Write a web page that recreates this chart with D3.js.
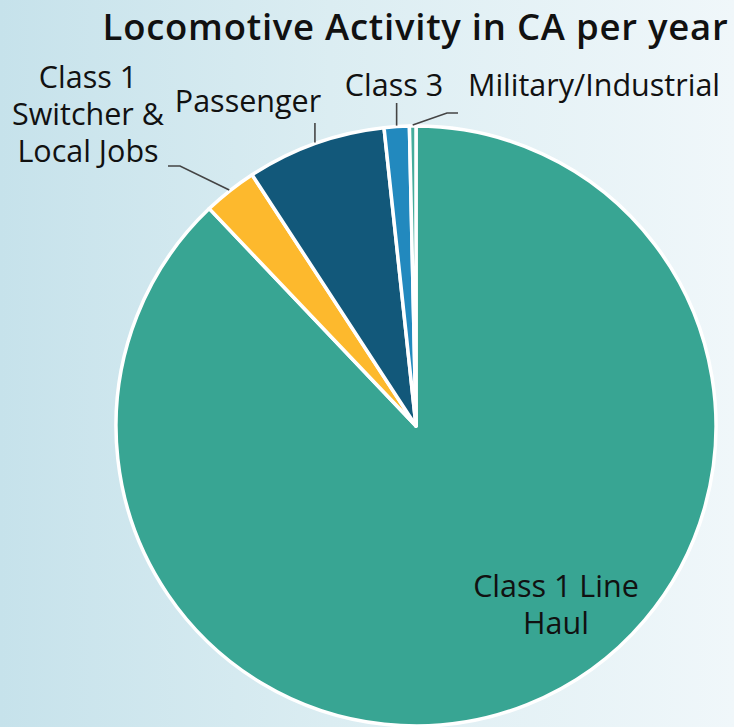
<!DOCTYPE html>
<html>
<head>
<meta charset="utf-8">
<script src="https://cdn.jsdelivr.net/npm/d3@7"></script>
<style>
  html, body { margin: 0; padding: 0; }
  body { width: 734px; height: 727px; overflow: hidden; }
  svg { display: block; }
</style>
</head>
<body>
<svg id="chart" width="734" height="727"></svg>
<script>
// Share of locomotive activity by category (percent)
const categories = ["Class 1 Line Haul", "Class 1 Switcher & Local Jobs", "Passenger", "Class 3", "Military/Industrial"];
const shares = [87.9, 2.9, 7.5, 1.35, 0.35];
const colors = ["#38a593", "#fdb92d", "#12587a", "#2289be", "#46ad9c"];

// Label text (line-broken) and placement of each label / leader line
const labelLines = [
  ["Class 1 Line", "Haul"],
  ["Class 1", "Switcher &", "Local Jobs"],
  ["Passenger"],
  ["Class 3"],
  ["Military/Industrial"]
];
const labelLayout = [
  { x: 556, y: 597, leader: null },
  { x: 88, y: 88, leader: { elbow: [180, 166], end: [168, 166] } },
  { x: 248, y: 112, leader: { elbow: null, end: [null, 123] } },
  { x: 394, y: 96, leader: { elbow: null, end: [null, 103] } },
  { x: 594, y: 96, leader: { elbow: [447, 113], end: [458, 113] } }
];

const W = 734, H = 727;
const cx = 416, cy = 426, R = 300;
const FONT = "'Open Sans', Lato, sans-serif";

const svg = d3.select("#chart");

// Soft blue backdrop
const defs = svg.append("defs");
const grad = defs.append("linearGradient")
  .attr("id", "bg").attr("x1", "0%").attr("y1", "0%").attr("x2", "100%").attr("y2", "0%");
grad.append("stop").attr("offset", "0%").attr("stop-color", "#c6e2eb");
grad.append("stop").attr("offset", "45%").attr("stop-color", "#dbedf2");
grad.append("stop").attr("offset", "100%").attr("stop-color", "#f0f7fa");
svg.append("rect").attr("width", W).attr("height", H).attr("fill", "url(#bg)");

// Title
svg.append("text")
  .attr("x", 415.5).attr("y", 39.5)
  .attr("text-anchor", "middle")
  .attr("font-family", FONT)
  .attr("font-weight", 600)
  .attr("font-size", 36.5)
  .attr("letter-spacing", 0.75)
  .attr("fill", "#111")
  .text("Locomotive Activity in CA per year");

const data = categories.map((c, i) => ({ name: c, value: shares[i], color: colors[i], i }));

const pie = d3.pie().sort(null).value(d => d.value).startAngle(0).endAngle(2 * Math.PI);
const arcs = pie(data);
const arc = d3.arc().innerRadius(0).outerRadius(R);

const g = svg.append("g").attr("transform", `translate(${cx},${cy})`);

g.selectAll("path.slice")
  .data(arcs)
  .join("path")
  .attr("class", "slice")
  .attr("d", arc)
  .attr("fill", d => d.data.color)
  .attr("stroke", "#fff")
  .attr("stroke-width", 3.5)
  .attr("stroke-linejoin", "round");

// Leader lines start at the outer edge, at each slice's mid-angle
arcs.forEach((a, i) => {
  const lay = labelLayout[i];
  if (!lay.leader) return;
  const mid = (a.startAngle + a.endAngle) / 2;
  const sx = cx + (R + 1) * Math.sin(mid);
  const sy = cy - (R + 1) * Math.cos(mid);
  const pts = [[sx, sy]];
  if (lay.leader.elbow) pts.push(lay.leader.elbow);
  const ex = lay.leader.end[0] == null ? sx : lay.leader.end[0];
  pts.push([ex, lay.leader.end[1]]);
  svg.append("path")
    .attr("d", d3.line()(pts))
    .attr("fill", "none")
    .attr("stroke", "#444")
    .attr("stroke-width", 1.6);
});

// Labels: one text element per line
const lineH = 37;
labelLines.forEach((lines, i) => {
  const lay = labelLayout[i];
  lines.forEach((ln, k) => {
    svg.append("text")
      .attr("x", lay.x).attr("y", lay.y + k * lineH)
      .attr("text-anchor", "middle")
      .attr("font-family", FONT)
      .attr("font-size", 30.5)
      .attr("fill", "#111")
      .text(ln);
  });
});
</script>
</body>
</html>
